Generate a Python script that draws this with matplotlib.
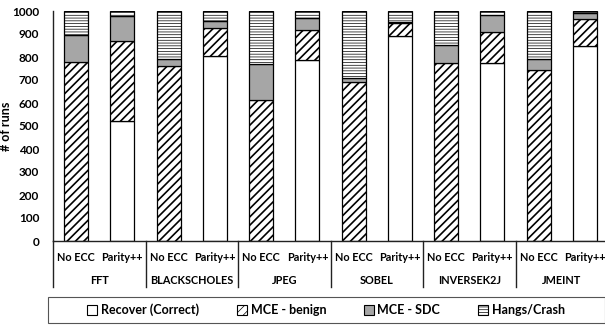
import matplotlib.pyplot as plt
import matplotlib.patches as mpatches
import numpy as np

plt.rcParams['font.family'] = ['Lato', 'DejaVu Sans']
plt.rcParams['font.weight'] = 'bold'
plt.rcParams['hatch.linewidth'] = 0.5

# Data
benchmarks = ['FFT', 'BLACKSCHOLES', 'JPEG', 'SOBEL', 'INVERSEK2J', 'JMEINT']
configs = ['No ECC', 'Parity++']

recover = [0, 520, 0, 804, 0, 787, 0, 891, 0, 775, 0, 846]
benign = [777, 351, 760, 121, 613, 130, 690, 58, 772, 132, 742, 120]
sdc = [117, 107, 30, 33, 155, 54, 17, 3, 80, 75, 48, 24]
hangs = [106, 22, 210, 42, 232, 29, 293, 48, 148, 18, 210, 10]

fig = plt.figure(figsize=(6.05, 3.26), dpi=100)
ax = fig.add_axes([53/605, 85/326, 555/605, 230/326])

x = np.arange(len(recover))
w = 0.52
ec = 'black'
lw = 0.9

b1 = np.array(recover)
b2 = b1 + np.array(benign)
b3 = b2 + np.array(sdc)

ax.bar(x, recover, w, color='white', edgecolor=ec, linewidth=lw)
with plt.rc_context({'hatch.linewidth': 1.2}):
    ax.bar(x, benign, w, bottom=b1, color='white', edgecolor=ec, linewidth=lw, hatch='////')
ax.bar(x, sdc, w, bottom=b2, color='#a6a6a6', edgecolor=ec, linewidth=lw)
ax.bar(x, hangs, w, bottom=b3, color='white', edgecolor=ec, linewidth=lw, hatch='------')

ax.set_xlim(-0.5, len(recover) - 0.5)
ax.set_ylim(0, 1000)
ax.set_yticks(range(0, 1001, 100))
ax.tick_params(axis='y', length=0, pad=10, labelsize=8.5)
ax.set_xticks([])
ax.set_ylabel('# of runs', fontsize=9, fontweight='bold')
ax.yaxis.set_label_coords(-41/555, 0.5)

for s in ['top', 'right']:
    ax.spines[s].set_visible(False)
for s in ['left', 'bottom']:
    ax.spines[s].set_color('#222222')
    ax.spines[s].set_linewidth(1)

trans = ax.get_xaxis_transform()
# config labels
for i in range(len(recover)):
    ax.text(x[i], -0.07, configs[i % 2], transform=trans, ha='center', va='center', fontsize=7.8)
# benchmark labels and separators
for g, name in enumerate(benchmarks):
    ax.text(2 * g + 0.5, -0.17, name, transform=trans, ha='center', va='center', fontsize=7.8)
for g in range(len(benchmarks) + 1):
    ax.plot([2 * g - 0.5, 2 * g - 0.5], [0, -0.2], transform=trans, color='#222222',
            linewidth=1, clip_on=False)

# legend
fig.patches.append(mpatches.Rectangle((48/605, 3/326), 557/605, 26/326, transform=fig.transFigure,
                                      facecolor='white', edgecolor='#555555', linewidth=0.8))
with plt.rc_context({'hatch.linewidth': 1.2}):
    h_benign = mpatches.Patch(facecolor='white', edgecolor=ec, linewidth=0.8, hatch='////',
                              label='MCE - benign')
handles = [
    mpatches.Patch(facecolor='white', edgecolor=ec, linewidth=0.8, label='Recover (Correct)'),
    h_benign,
    mpatches.Patch(facecolor='#a6a6a6', edgecolor=ec, linewidth=0.8, label='MCE - SDC'),
    mpatches.Patch(facecolor='white', edgecolor=ec, linewidth=0.8, hatch='------', label='Hangs/Crash'),
]
fig.legend(handles=handles, loc='center', bbox_to_anchor=(326/605, 16/326), ncol=4, frameon=False,
           fontsize=9, handlelength=0.8, handleheight=0.8, handletextpad=0.3, columnspacing=3.0)

fig.savefig('out.png', dpi=100)
